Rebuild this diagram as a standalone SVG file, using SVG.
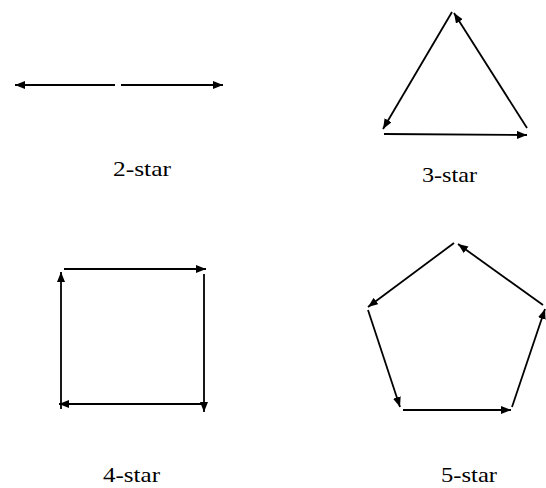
<svg xmlns="http://www.w3.org/2000/svg" width="546" height="488" viewBox="0 0 546 488">
<style>
.e{stroke:#000;stroke-width:1.8;fill:none;marker-end:url(#ah)}
.t{font-family:"Liberation Serif","Times New Roman",serif;font-size:21px;fill:#000}
</style>
<defs>
<marker id="ah" markerUnits="userSpaceOnUse" markerWidth="11" markerHeight="9" refX="10" refY="4" orient="auto">
<path d="M0,0 L10,4 L0,8 z" fill="#000"/>
</marker>
</defs>
<rect width="546" height="488" fill="#fff"/>
<g id="connectors">
<line class="e" x1="115" y1="85" x2="15" y2="85"/>
<line class="e" x1="121" y1="85" x2="223" y2="85"/>
<line class="e" x1="452" y1="12" x2="383" y2="129"/>
<line class="e" x1="384" y1="134" x2="527" y2="135"/>
<line class="e" x1="527" y1="128" x2="454" y2="13"/>
<line class="e" x1="64" y1="269" x2="206" y2="269"/>
<line class="e" x1="204" y1="274" x2="204" y2="412"/>
<line class="e" x1="202" y1="404" x2="59" y2="404"/>
<line class="e" x1="61" y1="409" x2="61" y2="272"/>
<line class="e" x1="454" y1="243" x2="368" y2="307"/>
<line class="e" x1="368" y1="310" x2="400" y2="407"/>
<line class="e" x1="403" y1="410" x2="511" y2="410"/>
<line class="e" x1="512" y1="407" x2="545" y2="309"/>
<line class="e" x1="543" y1="305" x2="458" y2="244"/>
</g>
<g id="label-2star"><text class="t" x="113" y="176" textLength="58" lengthAdjust="spacingAndGlyphs">2-star</text></g>
<g id="label-3star"><text class="t" x="422" y="182" textLength="55" lengthAdjust="spacingAndGlyphs">3-star</text></g>
<g id="label-4star"><text class="t" x="103" y="482" textLength="57" lengthAdjust="spacingAndGlyphs">4-star</text></g>
<g id="label-5star"><text class="t" x="441" y="482" textLength="56" lengthAdjust="spacingAndGlyphs">5-star</text></g>
</svg>
